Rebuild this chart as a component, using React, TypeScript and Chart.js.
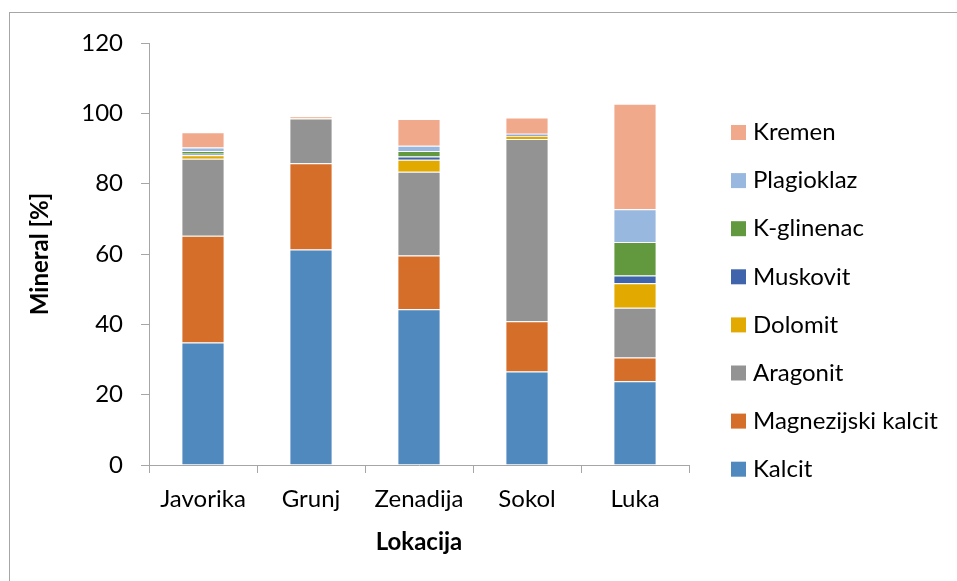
import React, { useEffect, useRef } from "react";
import { Chart, registerables } from "chart.js";

Chart.register(...registerables);

const categories = ["Javorika", "Grunj", "Zenadija", "Sokol", "Luka"];
const kalcit = [34.8, 61.3, 44.3, 26.6, 23.8];
const magnezijskiKalcit = [30.4, 24.5, 15.3, 14.3, 6.8];
const aragonit = [21.9, 12.7, 23.8, 51.8, 14.1];
const dolomit = [1.0, 0.2, 3.4, 0.9, 7.0];
const muskovit = [0.4, 0, 0.9, 0.6, 2.2];
const kGlinenac = [0.8, 0, 1.6, 0, 9.5];
const plagioklaz = [1.0, 0, 1.5, 0, 9.3];
const kremen = [4.3, 0.4, 7.6, 4.6, 30.0];

const seriesNames = [
  "Kalcit",
  "Magnezijski kalcit",
  "Aragonit",
  "Dolomit",
  "Muskovit",
  "K-glinenac",
  "Plagioklaz",
  "Kremen",
];
const seriesValues = [kalcit, magnezijskiKalcit, aragonit, dolomit, muskovit, kGlinenac, plagioklaz, kremen];
const seriesColors = ["#4F89BD", "#D46E29", "#939393", "#E2AA00", "#3F64AC", "#62993E", "#98B8DF", "#F1A98B"];

const yTicks = [0, 20, 40, 60, 80, 100, 120];

const FONT = "Lato";
const AXIS_COLOR = "#A6A6A6";

const legendPlugin = {
  id: "sideLegend",
  afterDraw(chart: any) {
    const { ctx, chartArea } = chart;
    const ds = chart.data.datasets;
    ctx.save();
    ctx.font = `24px ${FONT}`;
    ctx.textBaseline = "middle";
    ctx.textAlign = "left";
    const x0 = chartArea.right + 42;
    const y0 = chartArea.top + 89.5;
    const step = 48.1;
    for (let k = 0; k < ds.length; k++) {
      const d = ds[ds.length - 1 - k];
      const y = y0 + k * step;
      ctx.fillStyle = d.backgroundColor;
      ctx.fillRect(x0, y - 7.5, 15, 15);
      ctx.fillStyle = "#000";
      ctx.fillText(d.label, x0 + 22, y);
    }
    ctx.restore();
  },
};

function ChartView() {
  const ref = useRef<HTMLCanvasElement | null>(null);
  useEffect(() => {
    if (!ref.current) return;
    const chart = new Chart(ref.current, {
      type: "bar",
      data: {
        labels: categories,
        datasets: seriesNames.map((name, i) => ({
          label: name,
          data: seriesValues[i],
          backgroundColor: seriesColors[i],
          borderColor: "rgba(255,255,255,0.45)",
          borderWidth: 1,
          categoryPercentage: 1,
          barPercentage: 0.4,
        })),
      },
      options: {
        animation: false,
        responsive: false,
        maintainAspectRatio: false,
        layout: { padding: { top: 30, right: 268, bottom: 0, left: 0 } },
        plugins: { legend: { display: false }, tooltip: { enabled: false } },
        scales: {
          x: {
            stacked: true,
            afterFit: (s: any) => {
              s.height = 116;
            },
            grid: {
              drawOnChartArea: false,
              drawTicks: true,
              tickLength: 8,
              color: AXIS_COLOR,
              tickColor: AXIS_COLOR,
              offset: true,
            },
            border: { color: AXIS_COLOR, width: 1 },
            ticks: { color: "#000", font: { family: FONT, size: 24 }, padding: 12 },
            title: {
              display: true,
              text: "Lokacija",
              color: "#000",
              font: { family: FONT, size: 24, weight: "bold" },
              padding: { top: 0, bottom: 24 },
            },
          },
          y: {
            stacked: true,
            min: 0,
            max: 120,
            afterFit: (s: any) => {
              s.width = 139;
              s.paddingTop = 0;
              s.paddingBottom = 0;
            },
            afterBuildTicks: (s: any) => {
              s.ticks = yTicks.map((v) => ({ value: v }));
            },
            grid: {
              drawOnChartArea: false,
              drawTicks: true,
              tickLength: 8,
              color: AXIS_COLOR,
              tickColor: AXIS_COLOR,
            },
            border: { color: AXIS_COLOR, width: 1 },
            ticks: { color: "#000", font: { family: FONT, size: 24 }, padding: 18 },
            title: {
              display: true,
              text: "Mineral [%]",
              color: "#000",
              font: { family: FONT, size: 24, weight: "bold" },
              padding: { top: 16, bottom: 0 },
            },
          },
        },
      },
      plugins: [legendPlugin],
    });
    return () => chart.destroy();
  }, []);
  return <canvas ref={ref} width={947} height={568} style={{ display: "block" }} />;
}

export default function App() {
  return (
    <div
      style={{
        position: "fixed",
        left: 9,
        top: 12,
        width: 948,
        height: 569,
        boxSizing: "border-box",
        borderLeft: `1px solid ${AXIS_COLOR}`,
        borderTop: `1px solid ${AXIS_COLOR}`,
        background: "#fff",
      }}
    >
      <ChartView />
    </div>
  );
}
